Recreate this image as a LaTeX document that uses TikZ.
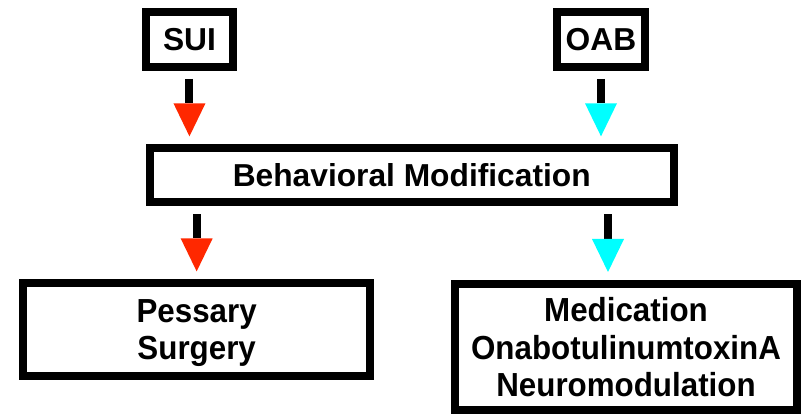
\documentclass[tikz,border=0pt]{standalone}
\usepackage{fontspec}
\setmainfont{Liberation Sans}
\newfontfamily\tallfont[FakeStretch=0.94]{Liberation Sans}
\usepackage{xcolor}
\usepackage{tikz}
\usetikzlibrary{arrows.meta}

\definecolor{suired}{RGB}{255,40,0}
\definecolor{oabcyan}{RGB}{0,255,255}

\begin{document}
\begin{tikzpicture}[x=1pt, y=1pt,
        box/.style={rectangle, draw, line width=6pt, fill=white, inner sep=0pt,
            align=center, font=\fontsize{23.8}{27.8}\selectfont\bfseries},
        tallbox/.style={box, font=\fontsize{25}{28.2}\tallfont\bfseries},
        flow/.style={line width=6pt, shorten <=6pt, shorten >=6pt,
            -{Triangle[width=24pt, length=24.75pt, line width=0pt, color=#1]}}]
        \useasboundingbox (0,0) rectangle (600.75,310.5);

        \node[box, minimum width=65.3pt, minimum height=41.3pt] (sui) at (142.1,280.9) {SUI};
        \node[box, minimum width=66pt, minimum height=41.3pt] (oab) at (450.75,280.9) {OAB};
        \node[box, minimum width=393pt, minimum height=40.3pt, text depth=-1pt] (beh) at (308.8,179.1) {Behavioral Modification};
        \node[tallbox, minimum width=260.3pt, minimum height=69.5pt, text depth=-2pt] (pes) at (147.5,63.2) {Pessary\\Surgery};
        \node[tallbox, minimum width=256.5pt, minimum height=94.5pt, text depth=-7pt] (med) at (469.5,50.25) {Medication\\OnabotulinumtoxinA\\Neuromodulation};

        \draw[flow=suired] (sui) -- (sui |- beh.north);
        \draw[flow=oabcyan] (oab) -- (oab |- beh.north);
        \draw[flow=suired] (pes |- beh.south) -- (pes);
        \draw[flow=oabcyan] ([xshift=-13.5pt]med.north |- beh.south) -- ([xshift=-13.5pt]med.north);
    \end{tikzpicture}
\end{document}
